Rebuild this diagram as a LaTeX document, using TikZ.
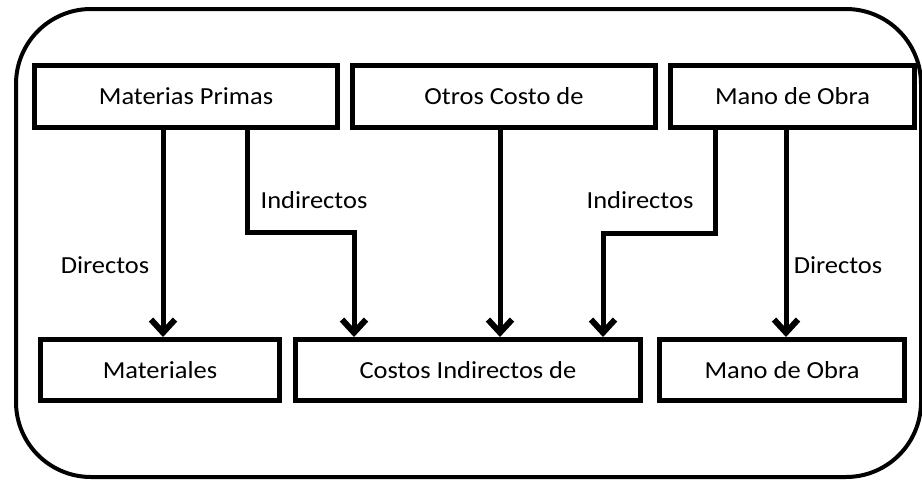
\documentclass[tikz,border=0pt]{standalone}
\usepackage{fontspec}
\setmainfont{Carlito}[FakeStretch=1.08]
\usetikzlibrary{arrows.meta}
\begin{document}
\begin{tikzpicture}[x=1pt,y=-1pt,
  box/.style={draw=black,line width=5pt,minimum height=62pt,inner sep=0pt,font=\fontsize{24.5}{29}\selectfont},
  lbl/.style={inner sep=0pt,font=\fontsize{24.5}{29}\selectfont},
  arr/.style={line width=5pt,-{Straight Barb[length=13pt,width=24pt,line width=6pt]}},
  lin/.style={line width=5pt}]
\useasboundingbox (0,0) rectangle (922,482);
\fill[white] (0,0) rectangle (922,482);
\draw[line width=4pt,rounded corners=75pt] (16,9) rectangle (921,477);
\node[box,minimum width=303pt] (mp) at (186,96.5) {Materias Primas};
\node[box,minimum width=303pt] (oc) at (504,96.5) {Otros Costo de};
\node[box,minimum width=244pt] (mo) at (792.5,96.5) {Mano de Obra};
\node[box,minimum width=239pt,minimum height=61pt] (mat) at (160,370) {Materiales};
\node[box,minimum width=345pt,minimum height=61pt] (cif) at (468,370) {Costos Indirectos de};
\node[box,minimum width=245pt,minimum height=61pt] (mob) at (782,370) {Mano de Obra};
\coordinate (b1) at (247,232);
\coordinate (b2) at (354,232);
\coordinate (b3) at (715,233);
\coordinate (b4) at (603,233);
\draw[arr] ([xshift=-23pt]mp.south) -- ([xshift=3pt]mat.north);
\draw[arr] ([xshift=61pt]mp.south) -- (b1) -- (b2) -- (b2 |- cif.north);
\draw[arr] ([xshift=-4pt]oc.south) -- ([xshift=32pt]cif.north);
\draw[arr] ([xshift=-77.5pt]mo.south) -- (b3) -- (b4) -- (b4 |- cif.north);
\draw[arr] ([xshift=-6.5pt]mo.south) -- ([xshift=4pt]mob.north);
\node[lbl] (d1) at (105,265) {Directos};
\node[lbl] (i1) at (314,200) {Indirectos};
\node[lbl] (i2) at (640,200) {Indirectos};
\node[lbl] (d2) at (838,265) {Directos};
\end{tikzpicture}
\end{document}
